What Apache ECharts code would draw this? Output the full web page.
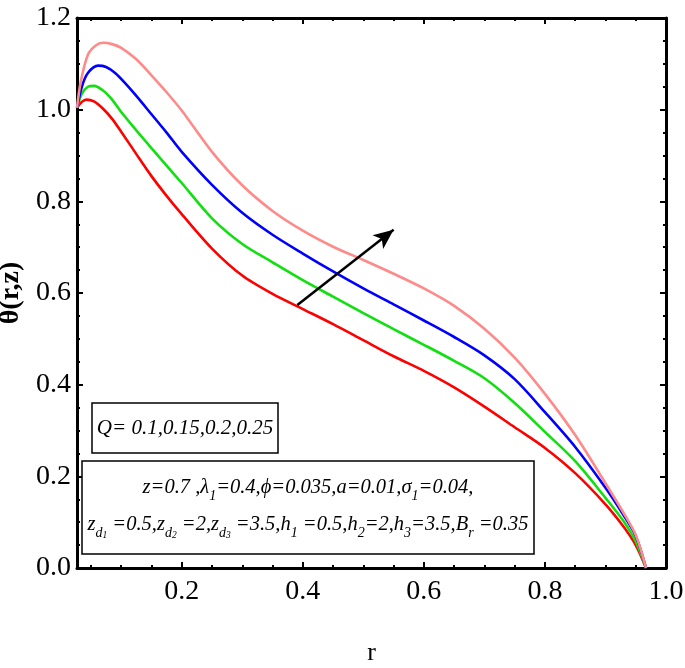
<!DOCTYPE html>
<html><head><meta charset="utf-8">
<script src="https://cdn.jsdelivr.net/npm/echarts@6/dist/echarts.min.js"></script>
<style>html,body{margin:0;padding:0;background:#fff}#c{width:685px;height:668px}</style>
</head><body><div id="c"></div>
<script>
// r (x) and theta (y) values, per curve
const rRed  = [0.027,0.035,0.0425,0.055,0.07,0.085,0.1,0.125,0.15,0.175,0.2,0.25,0.3,0.35,0.4,0.45,0.5,0.55,0.6,0.65,0.7,0.75,0.8,0.85,0.9,0.93,0.95,0.967];
const tRed  = [1.004,1.017,1.022,1.018,1.002,0.980,0.952,0.903,0.855,0.812,0.772,0.697,0.638,0.598,0.565,0.532,0.497,0.462,0.430,0.394,0.352,0.307,0.262,0.207,0.139,0.090,0.050,0.0];
const rGreen = [0.027,0.035,0.045,0.055,0.07,0.085,0.1,0.125,0.15,0.175,0.2,0.25,0.3,0.35,0.4,0.45,0.5,0.55,0.6,0.65,0.7,0.75,0.8,0.85,0.9,0.93,0.95,0.967];
const tGreen = [1.004,1.035,1.050,1.052,1.042,1.022,0.995,0.955,0.916,0.878,0.840,0.763,0.707,0.667,0.628,0.592,0.556,0.521,0.487,0.452,0.414,0.360,0.297,0.233,0.153,0.102,0.058,0.0];
const rBlue = [0.027,0.035,0.045,0.062,0.075,0.09,0.105,0.125,0.15,0.175,0.2,0.25,0.3,0.35,0.4,0.45,0.5,0.55,0.6,0.65,0.7,0.75,0.8,0.85,0.9,0.93,0.95,0.967];
const tBlue = [1.004,1.050,1.080,1.096,1.093,1.080,1.060,1.030,0.990,0.950,0.908,0.836,0.775,0.727,0.686,0.647,0.610,0.575,0.540,0.504,0.464,0.412,0.340,0.264,0.175,0.115,0.070,0.0];
const rPink = [0.027,0.033,0.045,0.058,0.070,0.085,0.1,0.125,0.15,0.175,0.2,0.25,0.3,0.35,0.4,0.45,0.5,0.55,0.6,0.65,0.7,0.75,0.8,0.85,0.9,0.93,0.95,0.967];
const tPink = [1.004,1.060,1.120,1.140,1.146,1.143,1.135,1.110,1.075,1.038,0.998,0.908,0.835,0.779,0.736,0.701,0.672,0.642,0.610,0.572,0.522,0.459,0.380,0.290,0.185,0.120,0.072,0.0];

// arrow annotation (tail, head) in data units
const arrowFrom = [0.391, 0.574];
const arrowTo   = [0.550, 0.738];

// axis ticks
const xMin = 0.027, xMax = 1.0;
const xMajor = [0.2,0.4,0.6,0.8,1.0];
const xMinor = [0.05,0.1,0.15,0.25,0.3,0.35,0.45,0.5,0.55,0.65,0.7,0.75,0.85,0.9,0.95];
const yMin = 0, yMax = 1.2, yStep = 0.2;

const zip = (a,b) => a.map((v,i)=>[v,b[i]]);
const serif = '"Liberation Serif", "Times New Roman", serif';

const chart = echarts.init(document.getElementById('c'), null, {renderer:'canvas'});

function xAx(pos, ticks, len, labels){
  return {
    type:'value', position:pos, min:xMin, max:xMax, gridIndex:0,
    axisLine:{show: ticks===xMajor, lineStyle:{color:'#000', width:3}},
    axisTick:{show:true, inside:true, length:len, customValues:ticks, lineStyle:{color:'#000', width:2}},
    axisLabel: labels ? {show:true, customValues:xMajor, formatter:v=>v.toFixed(1), color:'#000', fontFamily:serif, fontSize:28, margin:10} : {show:false},
    splitLine:{show:false}
  };
}
const xAxes = [
  Object.assign(xAx('bottom', xMajor, 6, true), {name:'r', nameLocation:'middle', nameGap:72, nameTextStyle:{color:'#000', fontFamily:serif, fontSize:26}}),
  xAx('bottom', xMinor, 3, false),
  xAx('top', xMajor, 6, false),
  xAx('top', xMinor, 3, false)
];
function yAx(pos, labels){
  return {
    type:'value', position:pos, min:yMin, max:yMax, interval:yStep, gridIndex:0,
    axisLine:{show:true, lineStyle:{color:'#000', width:3}},
    axisTick:{show:true, inside:true, length:6, lineStyle:{color:'#000', width:2}},
    minorTick:{show:true, splitNumber:4, length:3, lineStyle:{color:'#000', width:2}},
    axisLabel: labels ? {show:true, formatter:v=>v.toFixed(1), color:'#000', fontFamily:serif, fontSize:28, margin:6} : {show:false},
    splitLine:{show:false}, minorSplitLine:{show:false}
  };
}
const yAxes = [
  Object.assign(yAx('left', true), {name:'θ(r,z)', nameLocation:'middle', nameRotate:90, nameGap:52, nameTextStyle:{color:'#000', fontFamily:serif, fontSize:28, fontWeight:'bold'}}),
  yAx('right', false)
];

function line(name, data, color){
  return {name, type:'line', data, xAxisIndex:0, yAxisIndex:0, showSymbol:false, smooth:0.3,
    lineStyle:{color, width:2.6}, itemStyle:{color}, animation:false, z:3};
}

const main = {fontFamily:serif, fontStyle:'italic', fontSize:20.5, lineHeight:30, fill:'#000'};
const sub = {fontFamily:serif, fontStyle:'italic', fontSize:14, verticalAlign:'bottom', lineHeight:30, fill:'#000'};
const subsub = {fontFamily:serif, fontStyle:'italic', fontSize:9.5, verticalAlign:'bottom', lineHeight:30, fill:'#000'};

chart.setOption({
  backgroundColor:'#fff',
  animation:false,
  grid:{left:77, right:19, top:18, bottom:100, containLabel:false, outerBoundsMode:'none'},
  xAxis:xAxes,
  yAxis:yAxes,
  series:[
    line('Q=0.1', zip(rRed,tRed), '#ff0000'),
    line('Q=0.15', zip(rGreen,tGreen), '#10e010'),
    line('Q=0.2', zip(rBlue,tBlue), '#0000ff'),
    line('Q=0.25', zip(rPink,tPink), '#ff8a8a'),
    {type:'line', data:[], xAxisIndex:0, yAxisIndex:0, z:5,
      markLine:{silent:true, animation:false, symbol:['none','arrow'], symbolSize:[13,20],
        lineStyle:{color:'#000', width:2.5, type:'solid'}, label:{show:false},
        data:[[{coord:arrowFrom},{coord:arrowTo}]]}}
  ],
  graphic:[
    {type:'rect', shape:{x:92, y:403, width:186, height:50}, style:{fill:'#fff', stroke:'#000', lineWidth:1.5}, z:100},
    {type:'text', x:185, y:428, z:101, style:{text:'Q= 0.1,0.15,0.2,0.25', fontFamily:serif, fontStyle:'italic', fontSize:21, align:'center', verticalAlign:'middle', fill:'#000'}},
    {type:'rect', shape:{x:82, y:461, width:452, height:93}, style:{fill:'#fff', stroke:'#000', lineWidth:1.5}, z:100},
    {type:'text', x:308, y:488, z:101, style:{
      text:'{m|z=0.7 ,λ}{s|1}{m|=0.4,ϕ=0.035,a=0.01,σ}{s|1}{m|=0.04,}',
      rich:{m:main, s:sub}, align:'center', verticalAlign:'middle'}},
    {type:'text', x:308, y:525, z:101, style:{
      text:'{m|z}{s|d}{t|1}{m| =0.5,z}{s|d}{t|2}{m| =2,z}{s|d}{t|3}{m| =3.5,h}{s|1}{m| =0.5,h}{s|2}{m|=2,h}{s|3}{m|=3.5,B}{s|r}{m| =0.35}',
      rich:{m:main, s:sub, t:subsub}, align:'center', verticalAlign:'middle'}}
  ]
});
</script>
</body></html>
